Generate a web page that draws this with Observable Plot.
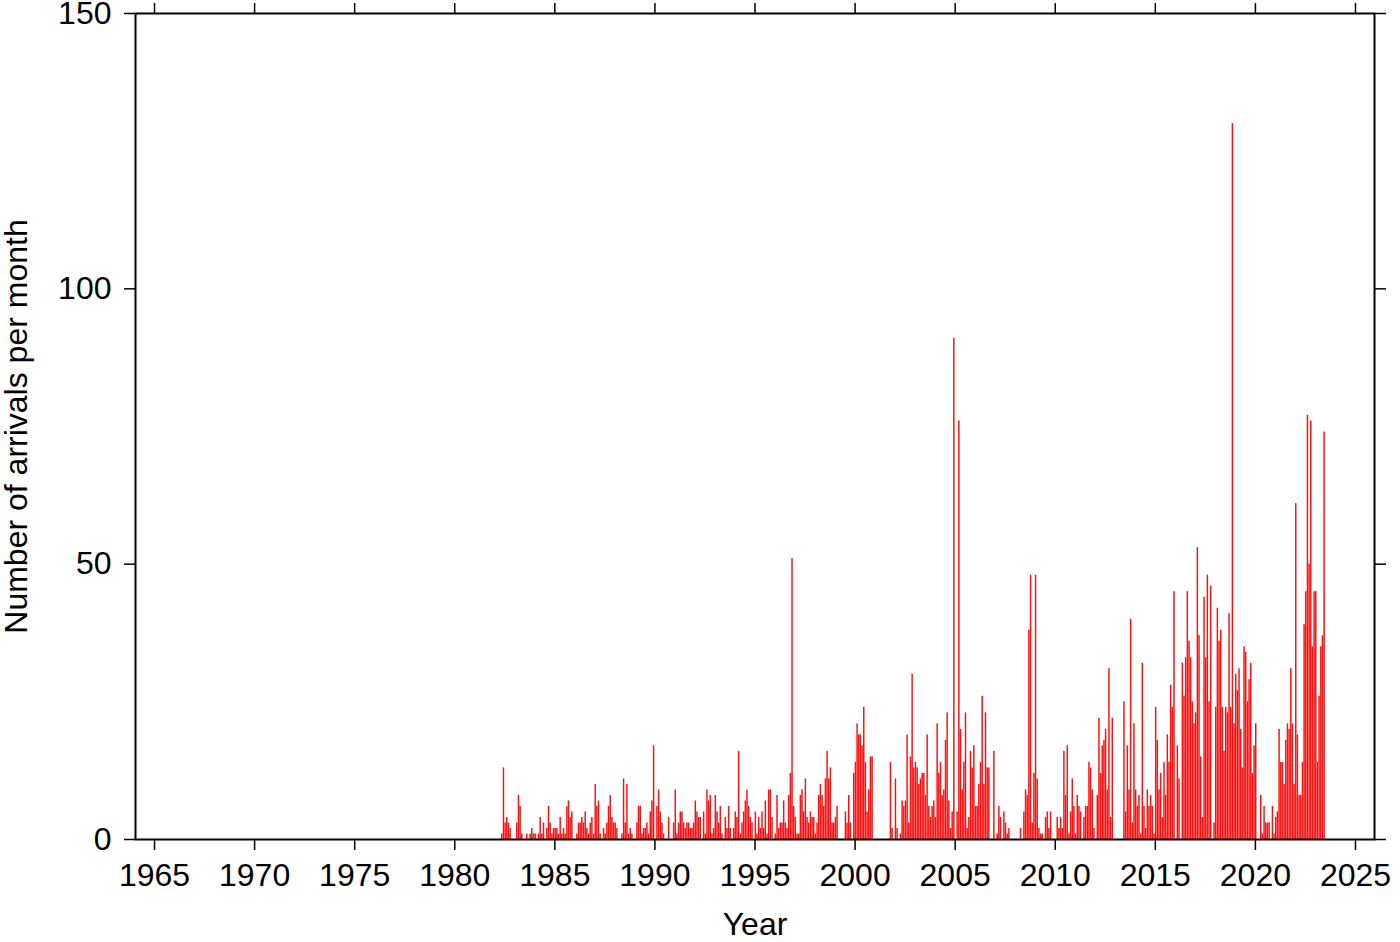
<!DOCTYPE html>
<html>
<head>
<meta charset="utf-8">
<script src="https://cdn.jsdelivr.net/npm/d3@7"></script>
<script src="https://cdn.jsdelivr.net/npm/@observablehq/plot@0.6"></script>
<style>
  html, body { margin: 0; padding: 0; background: #fff; }
  #chart svg { display: block; }
</style>
</head>
<body>
<div id="chart"></div>
<script>
// Monthly number of arrivals, first value = January 1982 (one value per month)
const startYear = 1982;
const monthlyCounts = [
  /*1982*/ 0,0,0,0,1,13,3,4,3,2,0,0,
  /*1983*/ 0,3,8,6,1,0,0,1,0,1,2,1,
  /*1984*/ 1,0,1,4,1,3,0,2,6,3,1,2,
  /*1985*/ 2,2,1,4,1,2,1,6,7,4,5,0,
  /*1986*/ 0,1,3,3,4,3,5,2,1,3,4,1,
  /*1987*/ 10,6,7,1,0,2,1,3,6,8,4,3,
  /*1988*/ 3,2,0,0,1,11,3,10,1,2,1,0,
  /*1989*/ 0,3,6,6,1,2,2,3,1,5,7,17,
  /*1990*/ 0,6,9,5,3,1,0,0,4,0,0,3,
  /*1991*/ 9,1,3,5,5,3,2,3,3,2,2,3,
  /*1992*/ 7,5,4,4,0,5,1,9,7,8,1,2,
  /*1993*/ 8,5,3,6,1,0,4,2,6,2,0,2,
  /*1994*/ 5,4,16,1,3,5,7,9,6,4,3,0,
  /*1995*/ 5,1,4,2,5,2,7,1,9,9,4,0,
  /*1996*/ 1,8,2,3,3,7,3,2,8,12,51,6,
  /*1997*/ 4,1,1,8,9,5,11,4,3,5,4,4,
  /*1998*/ 1,3,8,10,8,6,11,16,11,13,3,3,
  /*1999*/ 4,6,0,0,0,0,5,3,8,3,0,12,
  /*2000*/ 14,21,19,19,17,24,14,5,9,15,15,0,
  /*2001*/ 0,0,0,0,0,0,0,0,0,14,2,0,
  /*2002*/ 11,2,0,1,7,6,7,19,3,15,30,13,
  /*2003*/ 14,13,10,11,12,12,8,19,6,4,6,7,
  /*2004*/ 4,21,12,14,8,9,18,23,7,2,5,91,
  /*2005*/ 0,5,76,20,9,14,23,2,4,16,13,17,
  /*2006*/ 6,6,10,14,26,10,23,13,13,0,0,16,
  /*2007*/ 0,1,6,4,0,5,3,1,2,0,0,0,
  /*2008*/ 0,0,0,2,0,5,9,8,38,48,3,12,
  /*2009*/ 48,11,2,1,1,0,4,5,2,5,0,0,
  /*2010*/ 0,4,2,4,2,16,8,17,1,5,11,6,
  /*2011*/ 1,8,6,5,0,4,6,6,14,13,9,2,
  /*2012*/ 0,8,22,12,17,18,20,9,31,4,22,0,
  /*2013*/ 0,0,0,0,0,25,5,17,9,40,3,21,
  /*2014*/ 9,6,8,1,32,6,2,9,6,8,6,1,
  /*2015*/ 24,18,9,12,4,14,8,19,14,28,24,45,
  /*2016*/ 0,17,11,0,32,26,33,45,36,33,25,21,
  /*2017*/ 23,53,37,15,4,44,33,48,25,46,0,3,
  /*2018*/ 24,42,36,38,24,16,24,23,41,24,130,21,
  /*2019*/ 30,27,31,20,13,35,34,25,29,32,12,17,
  /*2020*/ 21,0,0,8,1,6,3,3,3,0,6,1,
  /*2021*/ 4,5,20,14,14,10,18,21,20,31,21,10,
  /*2022*/ 61,19,8,8,14,39,45,77,50,76,35,45,
  /*2023*/ 45,14,26,35,37,74
];
const xTicks = [1965, 1970, 1975, 1980, 1985, 1990, 1995, 2000, 2005, 2010, 2015, 2020, 2025];
const yTicks = [0, 50, 100, 150];
const xTitle = "Year";
const yTitle = "Number of arrivals per month";

const bars = monthlyCounts.map((v, i) => ({ t0: startYear + i / 12, t1: startYear + (i + 1) / 12, v }))
  .filter(d => d.v > 0);

const font = "Liberation Sans, Arial, Helvetica, sans-serif";

const chart = Plot.plot({
  width: 1400,
  height: 942,
  marginLeft: 135,
  marginRight: 26,
  marginTop: 13,
  marginBottom: 103,
  style: { fontFamily: font, fontSize: "32px", color: "black", background: "white", overflow: "visible" },
  x: { type: "linear", domain: [1964.05, 2025.95] },
  y: { type: "linear", domain: [0, 150] },
  marks: [
    Plot.rectY(bars, { x1: "t0", x2: "t1", y: "v", fill: "#ff1010", insetLeft: 0.1, insetRight: 0.1 }),
    Plot.axisX({ anchor: "bottom", ticks: xTicks, tickSize: 11, tickPadding: 13, tickFormat: d => String(d), label: null, strokeWidth: 1.5 }),
    Plot.axisX({ anchor: "top", ticks: xTicks, tickSize: 11, tickFormat: () => "", label: null, strokeWidth: 1.5 }),
    Plot.axisY({ anchor: "left", ticks: yTicks, tickSize: 11, tickPadding: 13, tickFormat: d => String(d), label: null, strokeWidth: 1.5 }),
    Plot.axisY({ anchor: "right", ticks: yTicks, tickSize: 11, tickFormat: () => "", label: null, strokeWidth: 1.5 }),
    Plot.frame({ stroke: "black", strokeWidth: 2 }),
    Plot.text([xTitle], { frameAnchor: "bottom", dy: 95, fontSize: 32, fill: "black", text: d => d }),
    Plot.text([yTitle], { frameAnchor: "left", dx: -119, rotate: -90, textAnchor: "middle", fontSize: 32, fill: "black", text: d => d })
  ]
});

document.getElementById("chart").appendChild(chart);
</script>
</body>
</html>
